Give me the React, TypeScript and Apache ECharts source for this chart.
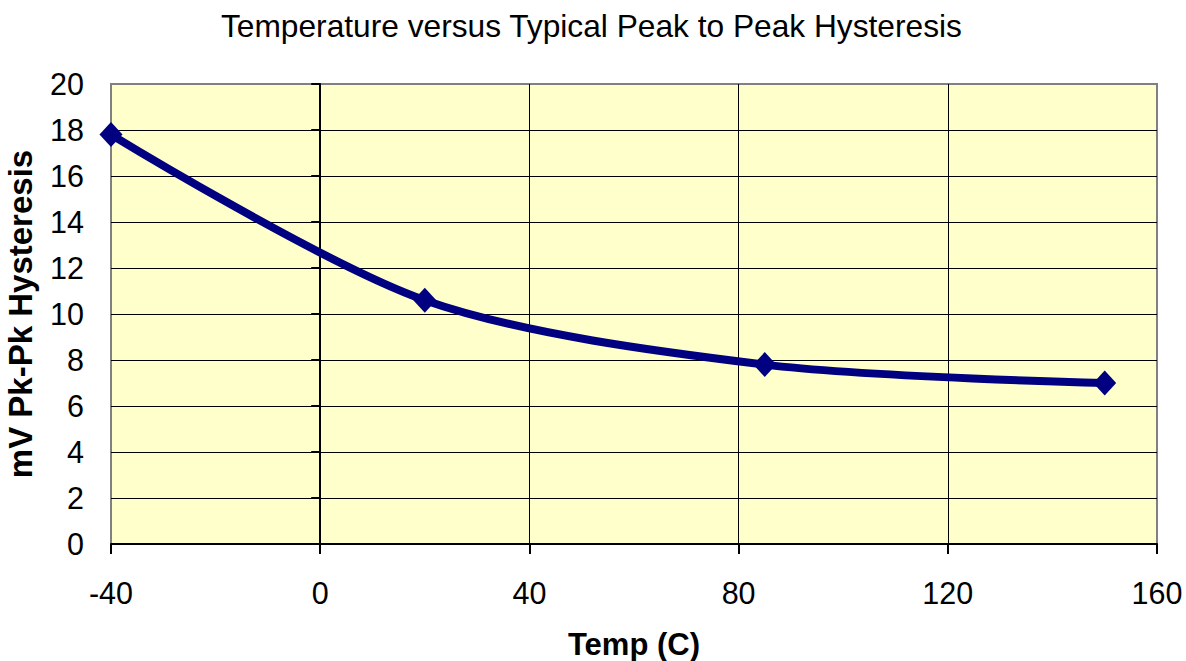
import React, { useEffect, useRef } from "react";
import * as echarts from "echarts";

const titleText = "Temperature versus Typical Peak to Peak Hysteresis";
const xAxisName = "Temp (C)";
const yAxisName = "mV Pk-Pk Hysteresis";
const temps = [-40, 20, 85, 150];
const hysteresis = [17.8, 10.6, 7.8, 7.0];

const FONT = "'Liberation Sans', Arial, Helvetica, sans-serif";

export default function App() {
  const ref = useRef<HTMLDivElement>(null);
  useEffect(() => {
    if (!ref.current) return;
    const chart = echarts.init(ref.current, undefined, { renderer: "svg" });
    const data = temps.map((t, i) => [t, hysteresis[i]]);
    chart.setOption({
      animation: false,
      backgroundColor: "#ffffff",
      textStyle: { fontFamily: FONT },
      title: {
        text: titleText,
        left: 216,
        top: 5,
        textStyle: { fontFamily: FONT, fontSize: 31.7, fontWeight: "normal", color: "#000" },
      },
      grid: {
        left: 111,
        right: 29,
        top: 84,
        bottom: 117,
        show: true,
        containLabel: false,
        outerBoundsMode: "none",
        backgroundColor: "#FFFFCC",
        borderColor: "#808080",
        borderWidth: 2,
      },
      xAxis: {
        type: "value",
        min: -40,
        max: 160,
        interval: 40,
        name: xAxisName,
        nameLocation: "middle",
        nameGap: 85,
        nameTextStyle: { fontFamily: FONT, fontSize: 31, fontWeight: "bold", color: "#000" },
        axisLine: { show: true, onZero: false, lineStyle: { color: "#000", width: 2 } },
        axisTick: { show: true, length: 10, lineStyle: { color: "#000", width: 2 } },
        axisLabel: { fontFamily: FONT, fontSize: 30.5, color: "#000", margin: 33 },
        splitLine: {
          show: true,
          showMinLine: false,
          showMaxLine: false,
          lineStyle: { color: "#000", width: 1 },
        },
      },
      yAxis: [
        {
          type: "value",
          min: 0,
          max: 20,
          interval: 2,
          position: "left",
          name: yAxisName,
          nameLocation: "middle",
          nameGap: 74,
          nameTextStyle: { fontFamily: FONT, fontSize: 33, fontWeight: "bold", color: "#000" },
          axisLine: { show: false, onZero: false },
          axisTick: { show: false },
          axisLabel: { fontFamily: FONT, fontSize: 30.5, color: "#000", margin: 27 },
          splitLine: {
            show: true,
            showMinLine: false,
            showMaxLine: false,
            lineStyle: { color: "#000", width: 1 },
          },
        },
        {
          type: "value",
          min: 0,
          max: 20,
          interval: 2,
          position: "left",
          axisLine: { show: true, onZero: true, lineStyle: { color: "#000", width: 2 } },
          axisTick: { show: true, length: 9, lineStyle: { color: "#000", width: 2 } },
          axisLabel: { show: false },
          splitLine: { show: false },
        },
      ],
      series: [
        {
          type: "line",
          data,
          yAxisIndex: 0,
          smooth: 0.3,
          symbol: "diamond",
          symbolSize: [23, 25],
          showSymbol: true,
          lineStyle: { color: "#000080", width: 8 },
          itemStyle: { color: "#000080" },
          z: 5,
        },
      ],
    });
    return () => chart.dispose();
  }, []);
  return (
    <div
      ref={ref}
      style={{ position: "fixed", left: 0, top: 0, width: 1186, height: 661 }}
    />
  );
}
